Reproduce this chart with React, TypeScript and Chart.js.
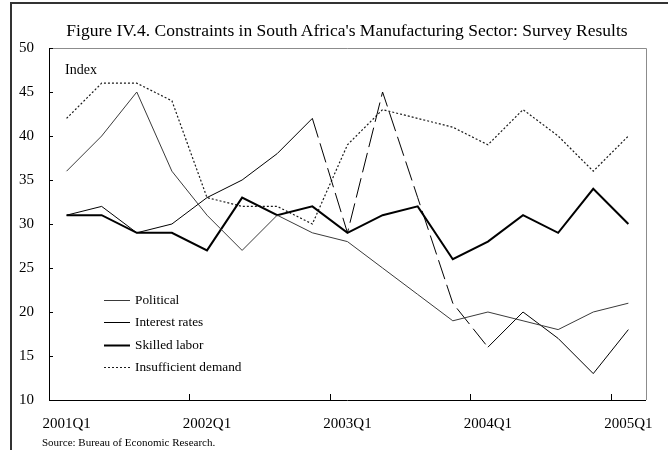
import React, { useEffect, useRef } from "react";
import { Chart, registerables } from "chart.js";

Chart.register(...registerables);

const quarters = [
  "2001Q1", "2001Q2", "2001Q3", "2001Q4",
  "2002Q1", "2002Q2", "2002Q3", "2002Q4",
  "2003Q1", "2003Q2", "2003Q3", "2003Q4",
  "2004Q1", "2004Q2", "2004Q3", "2004Q4",
  "2005Q1",
];
const tickLabels = ["2001Q1", "2002Q1", "2003Q1", "2004Q1", "2005Q1"];

const political = [36, 40, 45, 36, 31, 27, 31, 29, 28, 25, 22, 19, 20, 19, 18, 20, 21];
const interestRates = [31, 32, 29, 30, 33, 35, 38, 42, 29, 45, 33, 21, 16, 20, 17, 13, 18];
const skilledLabor = [31, 31, 29, 29, 27, 33, 31, 32, 29, 31, 32, 26, 28, 31, 29, 34, 30];
const insufficientDemand = [42, 46, 46, 44, 33, 32, 32, 30, 39, 43, 42, 41, 39, 43, 40, 36, 40];

const yMin = 10;
const yMax = 50;
const yStep = 5;

const FONT = "'Liberation Serif', 'Times New Roman', serif";

const decorPlugin = {
  id: "decor",
  afterDraw(chart: any) {
    const { ctx, chartArea: a, scales } = chart;
    const x = scales.x;
    const y = scales.y;
    ctx.save();
    // gray frame top & right
    ctx.strokeStyle = "#8c8c8c";
    ctx.lineWidth = 1;
    ctx.beginPath();
    ctx.moveTo(a.left, Math.round(a.top) + 0.5);
    ctx.lineTo(Math.round(a.right) + 0.5, Math.round(a.top) + 0.5);
    ctx.lineTo(Math.round(a.right) + 0.5, a.bottom);
    ctx.stroke();
    // inward ticks
    ctx.strokeStyle = "#000";
    ctx.beginPath();
    y.ticks.forEach((t: any) => {
      const py = Math.round(y.getPixelForValue(t.value)) + 0.5;
      ctx.moveTo(a.left, py);
      ctx.lineTo(a.left + 4, py);
    });
    const half = (x.getPixelForValue(1) - x.getPixelForValue(0)) / 2;
    quarters.forEach((q, i) => {
      if (tickLabels.includes(q)) {
        const px = Math.round(x.getPixelForValue(i) - half) + 0.5;
        ctx.moveTo(px, a.bottom);
        ctx.lineTo(px, a.bottom - 6);
      }
    });
    ctx.stroke();
    // legend
    ctx.font = `13.3px ${FONT}`;
    ctx.textBaseline = "middle";
    ctx.textAlign = "left";
    chart.data.datasets.forEach((ds: any, i: number) => {
      const ly = Math.round(a.top + 252 + i * 22.3) + 0.5;
      ctx.strokeStyle = ds.borderColor;
      ctx.lineWidth = ds.borderWidth;
      ctx.setLineDash(ds.borderDash || []);
      ctx.beginPath();
      ctx.moveTo(a.left + 55, ly);
      ctx.lineTo(a.left + 81, ly);
      ctx.stroke();
      ctx.setLineDash([]);
      ctx.fillStyle = "#000";
      ctx.fillText(ds.label, a.left + 86, ly);
    });
    ctx.restore();
  },
};

function ChartView() {
  const canvasRef = useRef<HTMLCanvasElement | null>(null);

  useEffect(() => {
    if (!canvasRef.current) return;
    const chart = new Chart(canvasRef.current, {
      type: "line",
      data: {
        labels: quarters,
        datasets: [
          {
            label: "Political",
            data: political,
            borderColor: "#3a3a3a",
            borderWidth: 1,
            pointRadius: 0,
            tension: 0,
            fill: false,
          },
          {
            label: "Interest rates",
            data: interestRates,
            borderColor: "#000000",
            borderWidth: 1,
            pointRadius: 0,
            tension: 0,
            fill: false,
            segment: {
              borderDash: (ctx: any) =>
                ctx.p0DataIndex >= 7 && ctx.p0DataIndex < 12 ? [20, 6] : undefined,
            },
          },
          {
            label: "Skilled labor",
            data: skilledLabor,
            borderColor: "#000000",
            borderWidth: 2,
            pointRadius: 0,
            tension: 0,
            fill: false,
          },
          {
            label: "Insufficient demand",
            data: insufficientDemand,
            borderColor: "#1a1a1a",
            borderWidth: 1.2,
            borderDash: [2, 2],
            pointRadius: 0,
            tension: 0,
            fill: false,
          },
        ],
      } as any,
      options: {
        animation: false,
        responsive: true,
        maintainAspectRatio: false,
        layout: { padding: { top: 48, right: 16, left: 0, bottom: 0 } },
        plugins: {
          legend: { display: false },
          tooltip: { enabled: false },
          title: { display: false },
        },
        scales: {
          x: {
            type: "category",
            offset: true,
            grid: { display: true, drawOnChartArea: false, drawTicks: false, offset: true },
            border: { display: true, color: "#000", width: 1 },
            ticks: {
              autoSkip: false,
              maxRotation: 0,
              minRotation: 0,
              padding: 15,
              color: "#000",
              font: { family: FONT, size: 15 },
              callback: (_v: any, i: number) =>
                tickLabels.includes(quarters[i]) ? quarters[i] : "",
            },
            afterFit: (s: any) => {
              s.height = 50;
            },
          },
          y: {
            min: yMin,
            max: yMax,
            grid: { display: true, drawOnChartArea: false, drawTicks: false },
            border: { display: true, color: "#000", width: 1 },
            ticks: {
              stepSize: yStep,
              padding: 15,
              color: "#000",
              font: { family: FONT, size: 15 },
            },
            afterFit: (s: any) => {
              s.width = 49;
            },
          },
        },
      } as any,
      plugins: [decorPlugin],
    });
    return () => chart.destroy();
  }, []);

  return <canvas ref={canvasRef} />;
}

export default function App() {
  return (
    <div
      style={{
        position: "absolute",
        left: 0,
        top: 0,
        width: 668,
        height: 450,
        overflow: "hidden",
        background: "#fff",
        fontFamily: FONT,
      }}
    >
      <div
        style={{
          position: "absolute",
          left: 10,
          top: 2,
          width: 680,
          height: 470,
          borderTop: "2px solid #333",
          borderLeft: "2px solid #333",
        }}
      />
      <div style={{ position: "absolute", left: 0, top: 0, width: 668, height: 450 }}>
        <ChartView />
      </div>
      <div
        style={{
          position: "absolute",
          left: 0,
          width: 694,
          top: 21,
          textAlign: "center",
          fontSize: 17.5,
          lineHeight: "18px",
          color: "#000",
          whiteSpace: "nowrap",
        }}
      >
        Figure IV.4. Constraints in South Africa's Manufacturing Sector: Survey Results
      </div>
      <div
        style={{
          position: "absolute",
          left: 65,
          top: 63,
          fontSize: 14,
          lineHeight: "14px",
          color: "#000",
        }}
      >
        Index
      </div>
      <div
        style={{
          position: "absolute",
          left: 42,
          top: 437,
          fontSize: 11,
          lineHeight: "11px",
          color: "#000",
          whiteSpace: "nowrap",
        }}
      >
        Source: Bureau of Economic Research.
      </div>
    </div>
  );
}
